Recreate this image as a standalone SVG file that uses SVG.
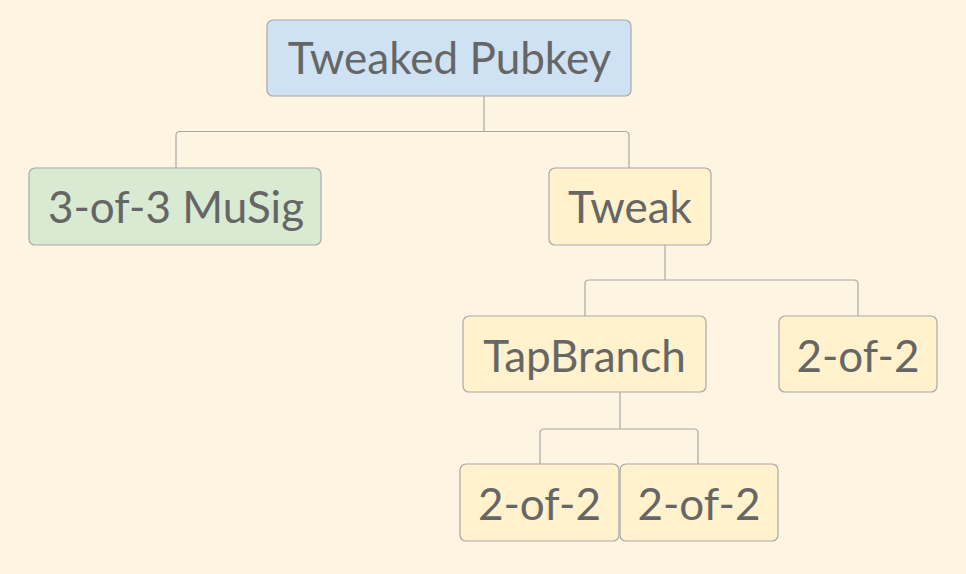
<svg xmlns="http://www.w3.org/2000/svg" width="966" height="574" viewBox="0 0 966 574">
<style>
.bg{fill:#fdf5e2}
.n rect{stroke:#a8a8a8;stroke-width:1.2}
.blue{fill:#cfe2f3}
.green{fill:#d9ead3}
.yellow{fill:#fff2cc}
.n text{font-family:Lato,"Liberation Sans",sans-serif;font-size:44px;fill:#666666;text-anchor:middle}
.c path{fill:none;stroke:#a8a8a8;stroke-width:1.2}
</style>
<rect class="bg" x="0" y="0" width="966" height="574"/>
<g class="c" id="connectors">
<path d="M484 96 V131.5"/>
<path d="M176 168 V135.5 Q176 131.5 180 131.5 H625 Q629 131.5 629 135.5 V168"/>
<path d="M665 245 V280"/>
<path d="M585 316 V284 Q585 280 589 280 H854 Q858 280 858 284 V316"/>
<path d="M620 392 V429"/>
<path d="M540 464 V433 Q540 429 544 429 H694 Q698 429 698 433 V464"/>
</g>
<g class="n" id="tweaked-pubkey"><rect class="blue" x="267" y="20" width="364" height="76" rx="6"/><text x="449.5" y="73.5">Tweaked Pubkey</text></g>
<g class="n" id="musig"><rect class="green" x="29" y="168" width="292" height="77" rx="6"/><text x="176" y="222.5">3-of-3 MuSig</text></g>
<g class="n" id="tweak"><rect class="yellow" x="549" y="168" width="162" height="77" rx="6"/><text x="630" y="222.5">Tweak</text></g>
<g class="n" id="tapbranch"><rect class="yellow" x="463" y="316" width="243" height="76" rx="6"/><text x="584.5" y="371.5">TapBranch</text></g>
<g class="n" id="two-of-two-a"><rect class="yellow" x="779" y="316" width="158" height="76" rx="6"/><text x="858" y="371.5">2-of-2</text></g>
<g class="n" id="two-of-two-b"><rect class="yellow" x="460" y="464" width="159" height="77" rx="6"/><text x="539.5" y="519.5">2-of-2</text></g>
<g class="n" id="two-of-two-c"><rect class="yellow" x="620" y="464" width="158" height="77" rx="6"/><text x="699" y="519.5">2-of-2</text></g>
</svg>
